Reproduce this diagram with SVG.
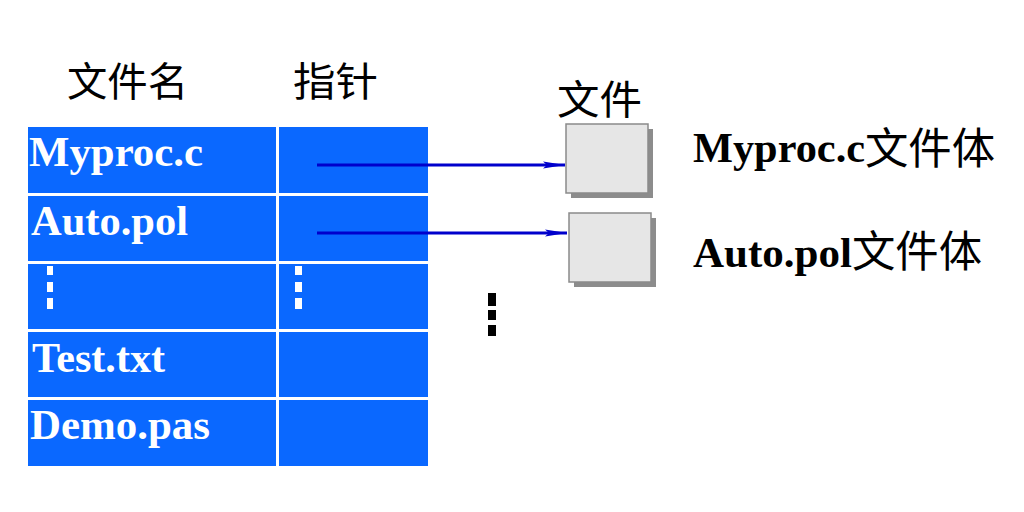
<svg xmlns="http://www.w3.org/2000/svg" width="1024" height="512" viewBox="0 0 1024 512">
  <style>
    .cell { fill: #0a68ff; }
    .lat { font-family: "Liberation Serif", "Times New Roman", serif; font-weight: bold; font-size: 43px; }
    .wt { fill: #ffffff; }
    .bk { fill: #000000; }
    .cjk { font-family: "Noto Sans CJK SC", "Noto Sans", sans-serif; font-size: 40px; fill: #000000; }
    .box { fill: #e6e6e6; stroke: #8a8a8a; stroke-width: 1.5; }
    .shadow { fill: #8c8c8c; }
    .conn { stroke: #0000cc; stroke-width: 3; fill: none; }
  </style>
  <defs>
    <marker id="arr" viewBox="0 0 22 9" refX="22" refY="4.5" markerWidth="22" markerHeight="9" markerUnits="userSpaceOnUse" orient="auto">
      <path d="M0,1 L22,4.5 L0,8 L4,4.5 Z" fill="#0000cc"/>
    </marker>
  </defs>
  <rect width="1024" height="512" fill="#ffffff"/>

  <g id="headers">
    <text class="cjk" x="67" y="96" textLength="121" lengthAdjust="spacingAndGlyphs">文件名</text>
    <text class="cjk" x="293" y="96" textLength="85" lengthAdjust="spacingAndGlyphs">指针</text>
    <text class="cjk" x="557" y="114" textLength="85" lengthAdjust="spacingAndGlyphs">文件</text>
  </g>

  <g id="table">
    <g id="row-myproc">
      <rect class="cell" x="28" y="127" width="248" height="66"/>
      <rect class="cell" x="279" y="127" width="149" height="66"/>
      <text class="lat wt" x="29" y="166" textLength="174" lengthAdjust="spacingAndGlyphs">Myproc.c</text>
    </g>
    <g id="row-auto">
      <rect class="cell" x="28" y="196" width="248" height="65"/>
      <rect class="cell" x="279" y="196" width="149" height="65"/>
      <text class="lat wt" x="31" y="235" textLength="157" lengthAdjust="spacingAndGlyphs">Auto.pol</text>
    </g>
    <g id="row-dots">
      <rect class="cell" x="28" y="264" width="248" height="65"/>
      <rect class="cell" x="279" y="264" width="149" height="65"/>
      <rect x="47" y="266" width="6" height="9" fill="#ffffff"/>
      <rect x="47" y="282" width="6" height="10" fill="#ffffff"/>
      <rect x="47" y="298" width="6" height="11" fill="#ffffff"/>
      <rect x="295" y="266" width="7" height="9" fill="#ffffff"/>
      <rect x="295" y="282" width="7" height="10" fill="#ffffff"/>
      <rect x="295" y="298" width="7" height="11" fill="#ffffff"/>
    </g>
    <g id="row-test">
      <rect class="cell" x="28" y="332" width="248" height="65"/>
      <rect class="cell" x="279" y="332" width="149" height="65"/>
      <text class="lat wt" x="32" y="372" textLength="133" lengthAdjust="spacingAndGlyphs">Test.txt</text>
    </g>
    <g id="row-demo">
      <rect class="cell" x="28" y="400" width="248" height="66"/>
      <rect class="cell" x="279" y="400" width="149" height="66"/>
      <text class="lat wt" x="30" y="439" textLength="180" lengthAdjust="spacingAndGlyphs">Demo.pas</text>
    </g>
  </g>

  <g id="file-myproc">
    <rect class="shadow" x="571" y="129" width="82" height="69"/>
    <rect class="box" x="566" y="124" width="82" height="69"/>
  </g>
  <g id="file-auto">
    <rect class="shadow" x="574" y="218" width="82" height="69"/>
    <rect class="box" x="569" y="213" width="82" height="69"/>
  </g>

  <g id="more-dots">
    <rect x="488" y="293" width="8" height="13" fill="#000000"/>
    <rect x="488" y="310" width="8" height="10" fill="#000000"/>
    <rect x="488" y="325" width="8" height="11" fill="#000000"/>
  </g>

  <g id="label-myproc">
    <text class="lat bk" x="693" y="162" textLength="172" lengthAdjust="spacingAndGlyphs">Myproc.c</text>
    <text class="cjk" x="865" y="164" style="font-size:43px" textLength="130" lengthAdjust="spacingAndGlyphs">文件体</text>
  </g>
  <g id="label-auto">
    <text class="lat bk" x="693" y="267" textLength="159" lengthAdjust="spacingAndGlyphs">Auto.pol</text>
    <text class="cjk" x="852" y="267" style="font-size:43px" textLength="130" lengthAdjust="spacingAndGlyphs">文件体</text>
  </g>

  <g id="connectors">
    <line class="conn" x1="317" y1="165" x2="565" y2="165" marker-end="url(#arr)"/>
    <line class="conn" x1="317" y1="233" x2="567" y2="233" marker-end="url(#arr)"/>
  </g>
</svg>
